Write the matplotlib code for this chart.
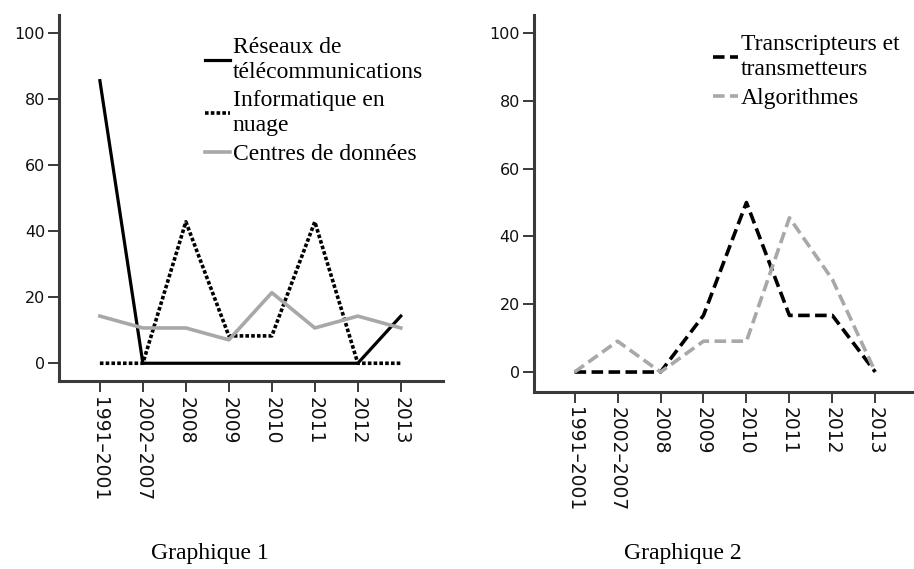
import matplotlib
matplotlib.use("Agg")
from matplotlib import pyplot as plt

periods = ["1991\u20132001", "2002\u20132007", "2008", "2009", "2010", "2011", "2012", "2013"]

# Graphique 1
reseaux = [85.7, 0, 0, 0, 0, 0, 0, 14.3]
informatique = [0, 0, 42.9, 8.3, 8.3, 42.9, 0, 0]
centres = [14.3, 10.7, 10.7, 7.1, 21.4, 10.7, 14.3, 10.7]

# Graphique 2
transcripteurs = [0, 0, 0, 16.7, 50.0, 16.7, 16.7, 0]
algorithmes = [0, 9.1, 0, 9.1, 9.1, 45.5, 27.3, 0]

yticks = [0, 20, 40, 60, 80, 100]
GRAY = "#a8a8a8"
SPINE = "#3a3a3a"
SERIF = "Liberation Serif"


def style_axes(ax, ylim, xlim):
    for s in ("top", "right"):
        ax.spines[s].set_visible(False)
    for s in ("left", "bottom"):
        ax.spines[s].set_linewidth(2.2)
        ax.spines[s].set_color(SPINE)
    ax.set_ylim(*ylim)
    ax.set_xlim(*xlim)
    ax.set_yticks(yticks)
    ax.set_xticks(range(len(periods)))
    ax.set_xticklabels(periods, rotation=270, va="top", ha="center")
    ax.tick_params(axis="both", direction="out", length=8, width=1.4,
                   color=SPINE, labelsize=11.5, labelcolor="#111111", pad=2)
    ax.tick_params(axis="x", labelsize=13.5, pad=3)


def add_legend(ax, xa, ya):
    leg = ax.legend(loc="upper left", bbox_to_anchor=(xa, ya), frameon=False,
                    handlelength=1.06, handletextpad=0.12, labelspacing=0.3,
                    borderaxespad=0, borderpad=0,
                    prop={"family": SERIF, "size": 17})
    for t in leg.get_texts():
        t.set_linespacing(1.25)
    return leg


fig = plt.figure(figsize=(9.14, 5.69), dpi=100)
x = range(len(periods))

ax1 = fig.add_axes([0.0646, 0.330, 0.420, 0.643])
ax1.plot(x, reseaux, color="black", lw=2.3, label="R\u00e9seaux de\nt\u00e9l\u00e9communications")
ax1.plot(x, informatique, color="black", lw=2.6, linestyle=(0, (1, 0.6)),
         label="Informatique en\nnuage")
ax1.plot(x, centres, color=GRAY, lw=2.6, label="Centres de donn\u00e9es")
style_axes(ax1, (-5.45, 105.5), (-0.95, 7.98))
add_legend(ax1, 0.38, 0.94)

ax2 = fig.add_axes([0.584, 0.311, 0.416, 0.6626])
ax2.plot(x, transcripteurs, color="black", lw=2.6, dashes=(3.2, 1.5),
         label="Transcripteurs et\ntransmetteurs")
ax2.plot(x, algorithmes, color=GRAY, lw=2.6, dashes=(3.2, 1.5), label="Algorithmes")
style_axes(ax2, (-5.9, 105.3), (-0.95, 7.9))
add_legend(ax2, 0.471, 0.949)

fig.text(210 / 914, 1 - 553 / 569, "Graphique 1", family=SERIF, size=17,
         ha="center", va="center")
fig.text(683 / 914, 1 - 553 / 569, "Graphique 2", family=SERIF, size=17,
         ha="center", va="center")

fig.savefig("out.png", dpi=100)
